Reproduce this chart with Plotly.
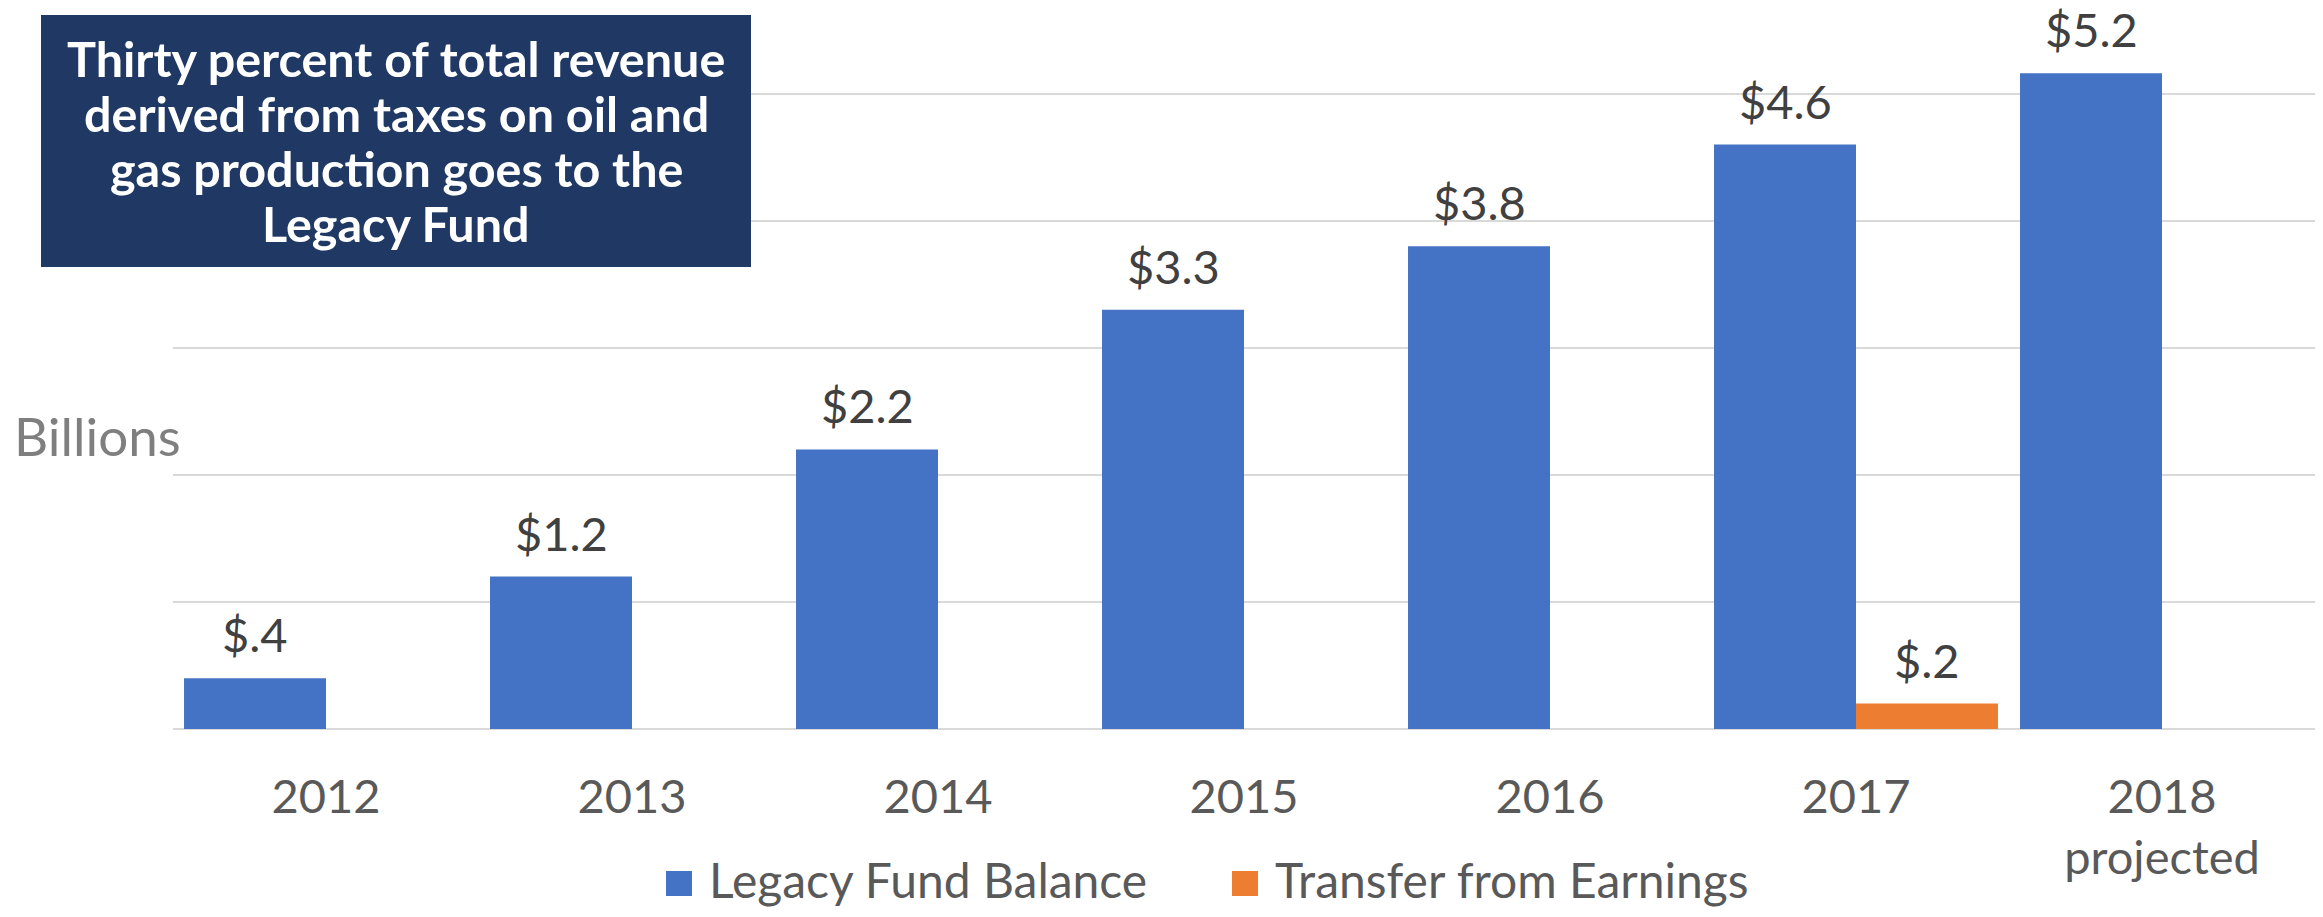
import plotly.graph_objects as go

years = ["2012", "2013", "2014", "2015", "2016", "2017", "2018<br>projected"]
balance = [0.4, 1.2, 2.2, 3.3, 3.8, 4.6, 5.16]
balance_labels = ["$.4", "$1.2", "$2.2", "$3.3", "$3.8", "$4.6", "$5.2"]
transfer = [None, None, None, None, None, 0.2, None]
transfer_labels = ["", "", "", "", "", "$.2", ""]
series_names = ["Legacy Fund Balance", "Transfer from Earnings"]
series_colors = ["#4472C4", "#ED7D31"]
title_lines = [
    "Thirty percent of total revenue",
    "derived from taxes on oil and",
    "gas production goes to the",
    "Legacy Fund",
]

FONT = "Lato, 'Open Sans', sans-serif"

# page body has an 8px margin, so the figure is a little smaller than the window
W, H = 2307, 901
ML, MR, MT, MB = 165, 0, 12, 180
PW = W - ML - MR
PH = H - MT - MB
BARGAP = 0.072
half_bar = PW / len(years) * (1 - BARGAP) / 4  # half of one bar, in px


def px_x(p):
    return (p - ML) / PW


def px_y(p):
    return (MT + PH - p) / PH


fig = go.Figure()
for vals, name, color in zip([balance, transfer], series_names, series_colors):
    fig.add_trace(go.Bar(
        x=years, y=vals, name=name,
        marker=dict(color=color, line=dict(width=0)),
        hoverinfo="skip", showlegend=False,
    ))

# data labels, a bit higher above the bars than plotly's own text
# (x given as category index so the axis does not read "2012" as a number)
for vals, labels, dx in [(balance, balance_labels, -half_bar), (transfer, transfer_labels, half_bar)]:
    for i, (v, t) in enumerate(zip(vals, labels)):
        if v is None or not t:
            continue
        fig.add_annotation(
            x=i, y=v, xref="x", yref="y", text=t, showarrow=False,
            xshift=dx, yshift=44, yanchor="middle",
            font=dict(size=47, color="#404040", family=FONT),
        )

# title box
fig.add_shape(
    type="rect", xref="paper", yref="paper",
    x0=px_x(33), x1=px_x(743), y0=px_y(259), y1=px_y(7),
    fillcolor="#203864", line=dict(width=0), layer="above",
)
for i, line in enumerate(title_lines):
    fig.add_annotation(
        xref="paper", yref="paper", x=px_x(388), y=px_y(50 + 55 * i),
        xanchor="center", yanchor="middle",
        text=f"<b>{line}</b>", showarrow=False,
        font=dict(size=48.5, color="white", family=FONT),
    )

fig.add_annotation(
    xref="paper", yref="paper", x=px_x(4), y=px_y(427),
    xanchor="left", yanchor="middle",
    text="Billions", showarrow=False,
    font=dict(size=53, color="#7F7F7F", family=FONT),
)

# legend drawn by hand: bigger swatches than plotly's bar legend icons
for name, color, sx in zip(series_names, series_colors, [658, 1224]):
    fig.add_shape(
        type="rect", xref="paper", yref="paper",
        x0=px_x(sx), x1=px_x(sx + 26), y0=px_y(888), y1=px_y(863),
        fillcolor=color, line=dict(width=0),
    )
    fig.add_annotation(
        xref="paper", yref="paper", x=px_x(sx + 41), y=px_y(872),
        xanchor="left", yanchor="middle",
        text=name, showarrow=False,
        font=dict(size=48, color="#595959", family=FONT),
    )

fig.update_layout(
    width=W, height=H,
    margin=dict(l=ML, r=MR, t=MT, b=MB, autoexpand=False),
    barmode="group", bargap=BARGAP, bargroupgap=0,
    plot_bgcolor="white", paper_bgcolor="white",
    font=dict(family=FONT, color="#595959"),
    showlegend=False,
    xaxis=dict(
        type="category", range=[-0.5, len(years) - 0.5],
        showgrid=False, showline=False, ticks="", automargin=False,
        tickfont=dict(size=47, color="#595959", family=FONT),
        ticklabelstandoff=36,
    ),
    yaxis=dict(
        range=[0, 5.58], dtick=1, showticklabels=False, automargin=False,
        showgrid=True, gridcolor="#D9D9D9", gridwidth=2,
        zeroline=True, zerolinecolor="#D9D9D9", zerolinewidth=2,
    ),
)

fig.write_html("out.html")
